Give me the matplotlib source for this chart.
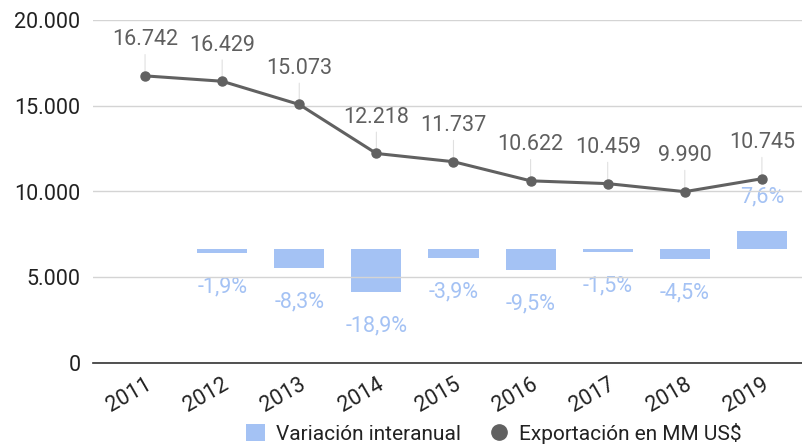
import matplotlib.pyplot as plt
from matplotlib.patches import Patch
from matplotlib.lines import Line2D

years = ['2011', '2012', '2013', '2014', '2015', '2016', '2017', '2018', '2019']
exports = [16742, 16429, 15073, 12218, 11737, 10622, 10459, 9990, 10745]
variation = [None, -1.9, -8.3, -18.9, -3.9, -9.5, -1.5, -4.5, 7.6]

export_labels = ['16.742', '16.429', '15.073', '12.218', '11.737',
                 '10.622', '10.459', '9.990', '10.745']
yticks = [0, 5000, 10000, 15000, 20000]
ytick_labels = ['0', '5.000', '10.000', '15.000', '20.000']

line_color = '#616161'
bar_color = '#a4c2f4'
label_grey = '#5f5f5f'

plt.rcParams['font.family'] = ['Roboto', 'DejaVu Sans']

fig = plt.figure(figsize=(8.02, 4.47), dpi=100)
W, H = 802, 447
left, right, top, bottom = 93, 802, 20, 363
ax = fig.add_axes([left / W, 1 - bottom / H, (right - left) / W, (bottom - top) / H])
ax2 = ax.twinx()

x = list(range(len(years)))

# exports line
ax.plot(x, exports, color=line_color, lw=2.2, marker='o', markersize=6.5, zorder=5)
for xi, v, lab in zip(x, exports, export_labels):
    ax.annotate(lab, xy=(xi, v), xytext=(0, 36), textcoords='offset pixels',
                ha='center', va='center', fontsize=15.5, color=label_grey,
                arrowprops=dict(arrowstyle='-', color='#e0e0e0', lw=0.8,
                                shrinkA=1, shrinkB=3))

ax.set_ylim(0, 20000)
ax.set_xlim(-0.675, 8.52)
ax.set_yticks(yticks)
ax.set_yticklabels(ytick_labels)
ax.grid(axis='y', color='#d4d4d4', lw=1)
ax.set_axisbelow(True)
for s in ['top', 'right', 'left']:
    ax.spines[s].set_visible(False)
ax.spines['bottom'].set_color('#333333')
ax.spines['bottom'].set_linewidth(1.2)
ax.tick_params(axis='y', length=0, pad=9, labelsize=15.5, labelcolor='#222222')
ax.set_xticks(x)
ax.set_xticklabels(years, rotation=30, ha='right', rotation_mode='anchor')
ax.tick_params(axis='x', length=0, pad=8, labelsize=15.5, labelcolor='#222222')

# variation bars on hidden secondary axis
bx = [xi for xi, v in zip(x, variation) if v is not None]
bv = [v for v in variation if v is not None]
ax2.bar(bx, bv, width=0.65, color=bar_color, zorder=2)
ax2.set_ylim(-50, 100)
ax2.axis('off')
for xi, v in zip(bx, bv):
    off = 34 if v > 0 else -34
    ax2.annotate(f'{v:.1f}%'.replace('.', ','), xy=(xi, v), xytext=(0, off),
                 textcoords='offset pixels', ha='center', va='center',
                 fontsize=15.5, color=bar_color)

ax.set_zorder(ax2.get_zorder() + 1)
ax.patch.set_visible(False)
ax2.patch.set_visible(True)

handles = [Patch(facecolor=bar_color, edgecolor='none', label='Variación interanual'),
           Line2D([], [], color=line_color, marker='o', linestyle='none',
                  markersize=11, label='Exportación en MM US$')]
fig.legend(handles=handles, loc='center', bbox_to_anchor=(494 / W, 1 - 433 / H),
           ncol=2, frameon=False, fontsize=15, handlelength=0.9, handleheight=0.9,
           handletextpad=0.5, columnspacing=1.4, labelcolor='#222222')

fig.savefig('out.png', dpi=100)
